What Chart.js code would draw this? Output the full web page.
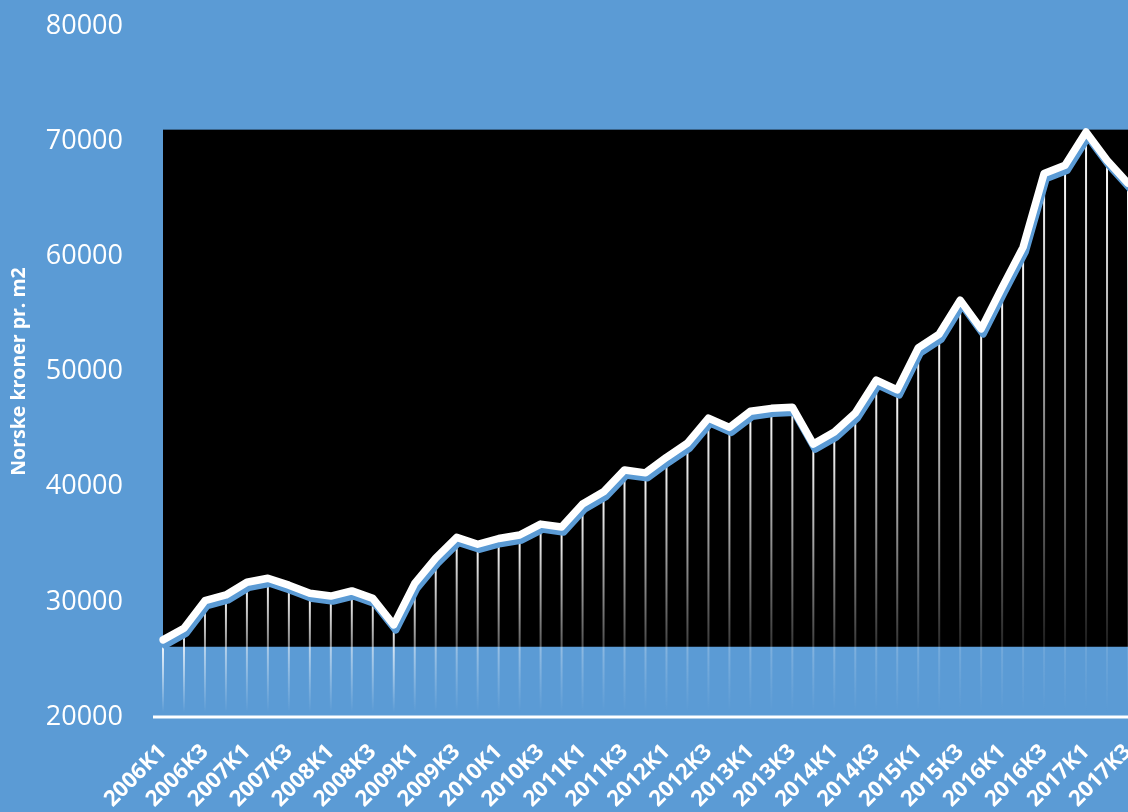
<!DOCTYPE html>
<html>
<head>
<meta charset="utf-8">
<script src="https://cdn.jsdelivr.net/npm/chart.js@4.4.0/dist/chart.umd.min.js"></script>
<style>
  html, body { margin: 0; padding: 0; background: #5b9bd5; }
  canvas { display: block; }
</style>
</head>
<body>
<canvas id="chart" width="1128" height="812"></canvas>
<script>
const quarters = [
  '2006K1','2006K2','2006K3','2006K4','2007K1','2007K2','2007K3','2007K4',
  '2008K1','2008K2','2008K3','2008K4','2009K1','2009K2','2009K3','2009K4',
  '2010K1','2010K2','2010K3','2010K4','2011K1','2011K2','2011K3','2011K4',
  '2012K1','2012K2','2012K3','2012K4','2013K1','2013K2','2013K3','2013K4',
  '2014K1','2014K2','2014K3','2014K4','2015K1','2015K2','2015K3','2015K4',
  '2016K1','2016K2','2016K3','2016K4','2017K1','2017K2','2017K3'
]
const prices = [
  26700, 27700, 30100, 30600, 31700, 32050, 31450, 30750,
  30500, 30950, 30300, 28000, 31600, 33800, 35600, 35000,
  35500, 35800, 36750, 36500, 38500, 39550, 41450, 41200,
  42550, 43780, 45950, 45150, 46550, 46800, 46900, 43700,
  44750, 46400, 49250, 48400, 52050, 53250, 56200, 53700,
  57300, 60800, 67200, 67900, 70800, 68350, 66350
]
const yTicks = [20000, 30000, 40000, 50000, 60000, 70000, 80000]
// black band behind the line
const bandLow = 26100
const bandHigh = 71000
const dropFloor = 20400

const blue = '#5b9bd5'

const backdrop = {
  id: 'backdrop',
  beforeDatasetsDraw(chart) {
    const { ctx, chartArea: a, scales: { y } } = chart
    ctx.save()
    const top = y.getPixelForValue(bandHigh)
    const bottom = y.getPixelForValue(bandLow)
    ctx.fillStyle = '#000'
    ctx.fillRect(a.left, top, a.right - a.left + 2, bottom - top)

    // axis line
    const base = y.getPixelForValue(yTicks[0])
    ctx.strokeStyle = '#fff'
    ctx.lineWidth = 3
    ctx.beginPath()
    ctx.moveTo(a.left - 10, base)
    ctx.lineTo(a.right + 2, base)
    ctx.stroke()

    // drop lines
    const floor = y.getPixelForValue(dropFloor)
    chart.getDatasetMeta(0).data.forEach(pt => {
      const g = ctx.createLinearGradient(0, pt.y, 0, floor)
      g.addColorStop(0, 'rgba(255,255,255,1)')
      g.addColorStop(1, 'rgba(255,255,255,0)')
      ctx.strokeStyle = g
      ctx.lineWidth = 2
      ctx.beginPath()
      ctx.moveTo(pt.x, pt.y)
      ctx.lineTo(pt.x, floor)
      ctx.stroke()
    })
    ctx.restore()

    ctx.save()
    ctx.shadowColor = blue
    ctx.shadowOffsetX = 2
    ctx.shadowOffsetY = 5
    ctx.shadowBlur = 0
  },
  afterDatasetsDraw(chart) {
    chart.ctx.restore()
  }
}

Chart.defaults.font.family = "'Open Sans', sans-serif"
Chart.defaults.color = '#fff'

new Chart(document.getElementById('chart'), {
  type: 'line',
  data: {
    labels: quarters,
    datasets: [{
      data: prices,
      borderColor: '#fff',
      borderWidth: 7.5,
      borderJoinStyle: 'round',
      borderCapStyle: 'round',
      pointRadius: 0,
      tension: 0,
      fill: false
    }]
  },
  options: {
    responsive: false,
    animation: false,
    layout: { padding: { left: 4, top: 26, right: 0, bottom: 0 } },
    plugins: {
      legend: { display: false },
      tooltip: { enabled: false }
    },
    scales: {
      x: {
        grid: { display: false, drawTicks: false },
        border: { display: false },
        ticks: {
          autoSkip: false,
          minRotation: 45,
          maxRotation: 45,
          padding: 22,
          color: '#fff',
          font: { size: 22, weight: 'bold' },
          callback: (v, i) => i % 2 === 0 ? quarters[i] : ''
        },
        afterFit: s => { s.height = 95; s.paddingLeft = 0; s.paddingRight = 0 }
      },
      y: {
        min: 20000,
        max: 80000,
        grid: { display: false, drawTicks: false },
        border: { display: false },
        afterBuildTicks: s => { s.ticks = yTicks.map(v => ({ value: v })) },
        afterFit: s => { s.width = 159; s.paddingTop = 0; s.paddingBottom = 0 },
        ticks: {
          padding: 40,
          color: '#fff',
          font: { size: 27 },
          callback: v => String(v)
        },
        title: {
          display: true,
          text: 'Norske kroner pr. m2',
          color: '#fff',
          font: { size: 19.5, weight: 'bold' }
        }
      }
    }
  },
  plugins: [backdrop]
})
</script>
</body>
</html>
